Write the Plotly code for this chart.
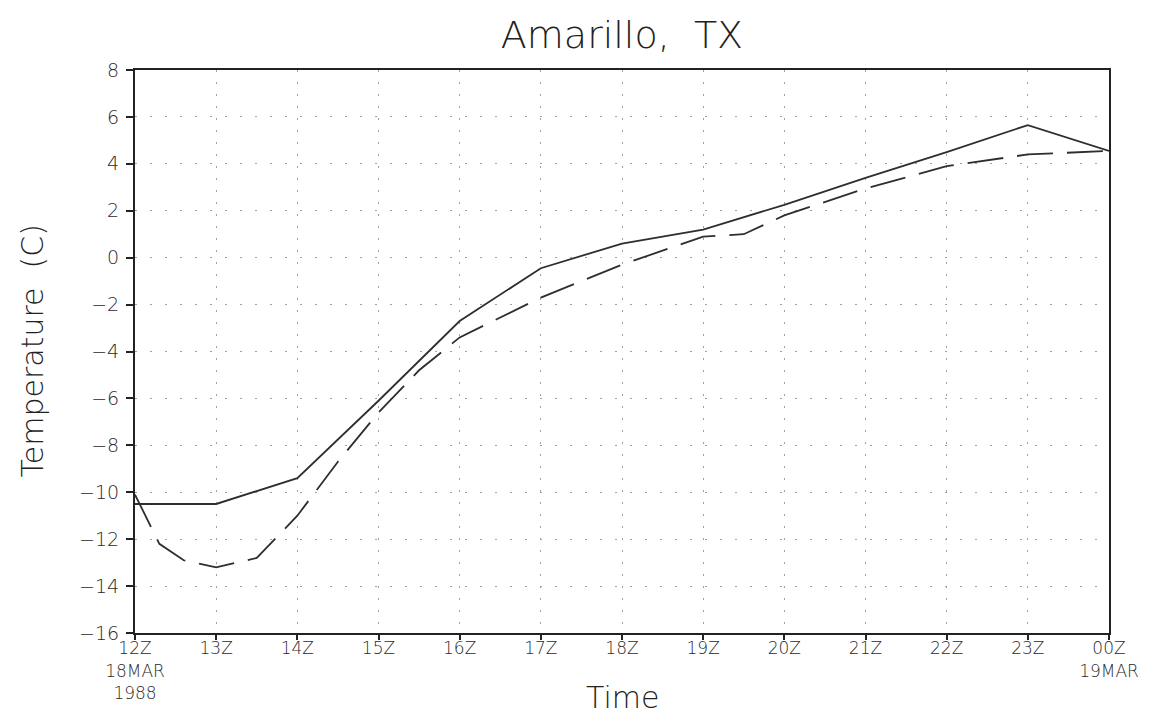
import plotly.graph_objects as go

# hours after 12Z 18 MAR 1988
tick_hours = [0, 1, 2, 3, 4, 5, 6, 7, 8, 9, 10, 11, 12]
tick_labels = ["12Z<br>18MAR<br>1988", "13Z", "14Z", "15Z", "16Z", "17Z", "18Z",
               "19Z", "20Z", "21Z", "22Z", "23Z", "00Z<br>19MAR"]

obs_hours = [0, 1, 2, 3, 4, 5, 6, 7, 8, 9, 10, 11, 12]
obs_temp = [-10.5, -10.5, -9.4, -6.1, -2.7, -0.45, 0.6, 1.2, 2.25, 3.4, 4.5, 5.65, 4.55]

model_hours = [0, 0.3, 0.6, 1, 1.5, 2, 2.5, 3, 3.5, 4, 5, 6, 7, 7.5, 8, 9, 10, 11, 12]
model_temp = [-10.1, -12.2, -12.9, -13.2, -12.8, -11.0, -8.7, -6.6, -4.8, -3.4, -1.7, -0.3,
              0.9, 1.0, 1.8, 2.95, 3.9, 4.4, 4.55]

y_ticks = list(range(-16, 9, 2))
y_labels = [str(v).replace("-", "\u2212") for v in y_ticks]

line_color = "#2e2e2e"
text_color = "#222222"
font_family = "DejaVu Sans, Liberation Sans, sans-serif"

# the page body adds an 8px offset, so figure coordinates are shifted by 8
L, R, T, B = 127, 52, 62, 96
W, H = 1153, 721
pw, ph = W - L - R, H - T - B

fig = go.Figure()
fig.add_trace(go.Scatter(x=obs_hours, y=obs_temp, mode="lines",
                         line=dict(color=line_color, width=1.8), showlegend=False))
fig.add_trace(go.Scatter(x=model_hours, y=model_temp, mode="lines",
                         line=dict(color=line_color, width=1.8, dash="36px,14px"),
                         showlegend=False))

fig.update_layout(
    width=W, height=H,
    paper_bgcolor="white", plot_bgcolor="white",
    margin=dict(l=L, r=R, t=T, b=B, autoexpand=False),
    font=dict(family=font_family, color=text_color, weight=300),
    title=dict(text="Amarillo,  TX", x=(L + pw / 2) / W, xanchor="center",
               y=1 - 27 / H, yanchor="middle",
               font=dict(size=38, family=font_family, color=text_color, weight=200)),
)
fig.add_annotation(text="Time", xref="paper", yref="paper",
                   x=0.5, y=-(689 - (T + ph)) / ph, xanchor="center", yanchor="middle",
                   showarrow=False, font=dict(size=30, color=text_color, weight=200))
fig.add_annotation(text="Temperature  (C)", xref="paper", yref="paper",
                   x=-(L - 24) / pw, y=0.5, xanchor="center", yanchor="middle",
                   textangle=-90, showarrow=False,
                   font=dict(size=30, color=text_color, weight=200))

fig.update_xaxes(
    range=[0, 12], tickvals=tick_hours, ticktext=tick_labels, automargin=False,
    showline=True, linecolor="#222222", linewidth=2, mirror=True,
    ticks="outside", ticklen=5, tickcolor="#222222", tickwidth=1.5,
    ticklabelstandoff=-6,
    showgrid=True, gridcolor="#a0a0a0", griddash="2px,10px", gridwidth=1.3,
    zeroline=False, tickfont=dict(size=17, weight=300, color="#2a2a2a"),
)
fig.update_yaxes(
    range=[-16, 8], tickvals=y_ticks, ticktext=y_labels, automargin=False,
    showline=True, linecolor="#222222", linewidth=2, mirror=True,
    ticks="outside", ticklen=7, tickcolor="#222222", tickwidth=1.5,
    ticklabelstandoff=3,
    showgrid=True, gridcolor="#a0a0a0", griddash="2px,13px", gridwidth=1.3,
    zeroline=False, tickfont=dict(size=19, weight=300, color="#2a2a2a"),
)

fig.write_html("out.html")
